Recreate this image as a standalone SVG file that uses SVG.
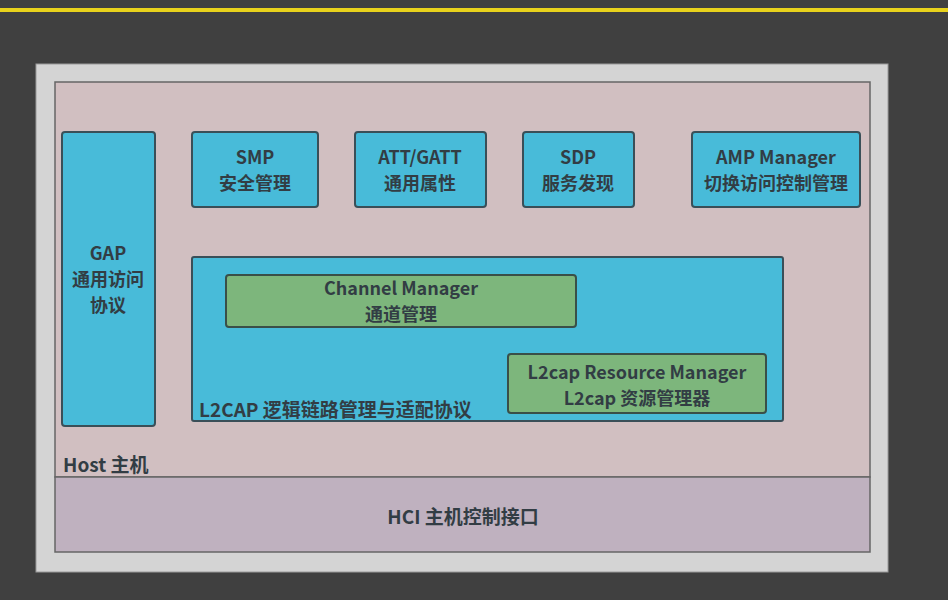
<svg xmlns="http://www.w3.org/2000/svg" width="948" height="600" viewBox="0 0 948 600">
<style>
text{font-family:"Noto Sans CJK SC","Noto Sans",sans-serif;font-weight:bold;font-size:18px;fill:#323d44;text-anchor:middle}
.big{font-size:19px}
.blue{fill:#48bbd9;stroke:#3a4f58;stroke-width:2}
.green{fill:#7db67c;stroke:#3a4f48;stroke-width:2}
.left{text-anchor:start}
</style>
<rect x="0" y="0" width="948" height="600" fill="#404040"/>
<rect x="0" y="8" width="948" height="4" fill="#e8d21c"/>
<g id="panel">
<rect x="36" y="64" width="852" height="508" fill="#d4d4d4" stroke="#9a9a9a" stroke-width="1"/>
</g>
<g id="host">
<rect x="55" y="82" width="815" height="395" fill="#d1bfc1" stroke="#666" stroke-width="1.5"/>
<text class="left big" x="63" y="472">Host 主机</text>
</g>
<g id="hci">
<rect x="55" y="477" width="815" height="75" fill="#bfb1bf" stroke="#666" stroke-width="1.5"/>
<text class="big" x="463" y="524">HCI 主机控制接口</text>
</g>
<g id="gap">
<rect class="blue" x="62" y="132" width="93" height="294" rx="3"/>
<text x="108" y="260">GAP</text>
<text x="108" y="286.2">通用访问</text>
<text x="108" y="312.4">协议</text>
</g>
<g id="smp">
<rect class="blue" x="192" y="132" width="126" height="75" rx="3"/>
<text x="255" y="163.5">SMP</text>
<text x="255" y="189.7">安全管理</text>
</g>
<g id="att">
<rect class="blue" x="355" y="132" width="131" height="75" rx="3"/>
<text x="420" y="163.5">ATT/GATT</text>
<text x="420" y="189.7">通用属性</text>
</g>
<g id="sdp">
<rect class="blue" x="523" y="132" width="111" height="75" rx="3"/>
<text x="578" y="163.5">SDP</text>
<text x="578" y="189.7">服务发现</text>
</g>
<g id="amp">
<rect class="blue" x="692" y="132" width="168" height="75" rx="3"/>
<text x="776" y="163.5">AMP Manager</text>
<text x="776" y="189.7">切换访问控制管理</text>
</g>
<g id="l2cap">
<rect class="blue" x="192" y="257" width="591" height="164" rx="2"/>
<text class="left big" x="199" y="417">L2CAP 逻辑链路管理与适配协议</text>
</g>
<g id="channel">
<rect class="green" x="226" y="275" width="350" height="52" rx="3"/>
<text x="401" y="294.5">Channel Manager</text>
<text x="401" y="320.7">通道管理</text>
</g>
<g id="resource">
<rect class="green" x="508" y="354" width="258" height="59" rx="3"/>
<text x="637" y="378.5">L2cap Resource Manager</text>
<text x="637" y="404.7">L2cap 资源管理器</text>
</g>
<g id="connectors"></g>
</svg>
